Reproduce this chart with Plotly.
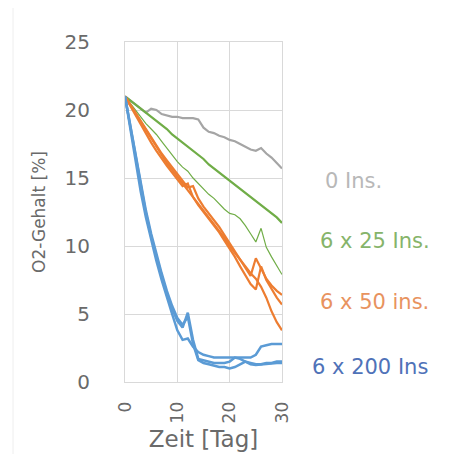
import plotly.graph_objects as go

days = list(range(0, 31))

gray_0 = [21, 20.7, 20.4, 20.1, 19.8, 20.1, 20.0, 19.7, 19.6, 19.5, 19.5, 19.4, 19.4, 19.4, 19.3,
          18.7, 18.4, 18.3, 18.1, 18.0, 17.8, 17.7, 17.5, 17.3, 17.1, 17.0, 17.2, 16.8, 16.5, 16.1, 15.7]

green_a = [21, 20.7, 20.4, 20.1, 19.8, 19.5, 19.2, 18.9, 18.6, 18.2, 17.9, 17.6, 17.3, 17.0, 16.7,
           16.4, 16.0, 15.7, 15.4, 15.1, 14.8, 14.5, 14.2, 13.9, 13.6, 13.3, 13.0, 12.7, 12.4, 12.1, 11.7]
green_b = [21, 20.5, 20.0, 19.5, 19.0, 18.6, 18.2, 17.7, 17.2, 16.7, 16.2, 15.8, 15.5, 15.0, 14.6,
           14.2, 13.8, 13.5, 13.1, 12.7, 12.4, 12.3, 12.0, 11.5, 10.9, 10.3, 11.3, 9.9, 9.2, 8.5, 7.9]

orange_a = [21, 20.4, 19.8, 19.2, 18.6, 18.0, 17.4, 16.8, 16.3, 15.8, 15.3, 14.8, 14.3, 14.4, 13.5,
            12.9, 12.4, 11.9, 11.4, 10.8, 10.2, 9.6, 9.0, 8.4, 7.8, 9.1, 8.3, 7.6, 7.1, 6.7, 6.4]
orange_b = [21, 20.3, 19.6, 18.9, 18.2, 17.6, 17.0, 16.4, 15.9, 15.4, 14.9, 14.4, 14.6, 13.6, 13.0,
            12.5, 12.0, 11.5, 11.0, 10.4, 9.8, 9.2, 8.5, 7.8, 7.2, 6.8, 8.5, 7.5, 6.8, 6.2, 5.7]
orange_c = [21, 20.4, 19.7, 19.1, 18.5, 17.9, 17.3, 16.7, 16.1, 15.6, 15.1, 14.6, 14.1, 13.6, 13.1,
            12.6, 12.1, 11.6, 11.1, 10.6, 10.0, 9.5, 9.0, 8.5, 8.0, 7.6, 7.0, 6.2, 5.2, 4.4, 3.8]

blue_a = [21, 18.8, 16.5, 14.3, 12.4, 10.7, 9.2, 7.8, 6.5, 5.4, 4.5, 4.0, 5.1, 3.1, 1.7,
          1.6, 1.5, 1.4, 1.4, 1.4, 1.5, 1.8, 1.7, 1.5, 1.3, 1.25, 1.3, 1.3, 1.4, 1.4, 1.4]
blue_b = [21, 18.6, 16.2, 14.0, 12.1, 10.4, 8.9, 7.5, 6.2, 5.0, 3.8, 3.1, 3.2, 2.6, 2.2,
          2.0, 1.9, 1.8, 1.8, 1.8, 1.8, 1.8, 1.8, 1.8, 1.8, 2.0, 2.6, 2.7, 2.8, 2.8, 2.8]
blue_c = [21, 18.9, 16.7, 14.5, 12.6, 10.9, 9.4, 8.0, 6.7, 5.6, 4.7, 4.2, 4.8, 2.8, 1.6,
          1.4, 1.3, 1.2, 1.1, 1.1, 1.0, 1.1, 1.3, 1.5, 1.4, 1.3, 1.3, 1.4, 1.4, 1.5, 1.5]

label_text = ["0 Ins.", "6 x 25 Ins.", "6 x 50 ins.", "6 x 200 Ins"]
label_y = [14.8, 10.4, 5.9, 1.1]
label_shift = [41, 36, 36, 28]
label_colors = ["#b8b8b8", "#86b46a", "#e8935f", "#4f72b8"]

GRAY = "#a5a5a5"
GREEN = "#70ad47"
ORANGE = "#ed7d31"
BLUE = "#5b9bd5"
FONT = "DejaVu Sans"
TXT = "#6a6a6a"

fig = go.Figure()

series = [
    (gray_0, GRAY, 2.2),
    (green_b, GREEN, 1.2),
    (green_a, GREEN, 2.2),
    (orange_c, ORANGE, 2.2),
    (orange_a, ORANGE, 2.2),
    (orange_b, ORANGE, 2.2),
    (blue_b, BLUE, 2.5),
    (blue_c, BLUE, 2.5),
    (blue_a, BLUE, 2.5),
]
for ys, col, w in series:
    fig.add_trace(go.Scatter(x=days, y=ys, mode="lines",
                             line=dict(color=col, width=w), showlegend=False,
                             hoverinfo="skip"))

for txt, yv, sh, col in zip(label_text, label_y, label_shift, label_colors):
    fig.add_annotation(x=1, xref="paper", xanchor="left", xshift=sh, y=yv, yref="y",
                       text=txt, showarrow=False,
                       font=dict(size=21, color=col, family=FONT))

# faint outer chart border at the left
fig.add_shape(type="line", xref="paper", yref="paper", x0=-0.713, x1=-0.713, y0=-0.3, y1=1.2,
              line=dict(color="#eeeeee", width=1))

fig.update_layout(
    width=444, height=446,
    margin=dict(l=117, r=170, t=34, b=72),
    paper_bgcolor="white", plot_bgcolor="white",
    font=dict(family=FONT, color=TXT),
)
fig.update_xaxes(range=[0, 30], tickvals=[0, 10, 20, 30], tickangle=-90,
                 automargin=False,
                 showgrid=True, gridcolor="#d9d9d9", gridwidth=1,
                 showline=True, mirror=True, linecolor="#d9d9d9", linewidth=1,
                 zeroline=False, ticks="", ticklabelstandoff=12,
                 tickfont=dict(size=17, color=TXT, family=FONT),
                 title=dict(text="Zeit [Tag]", font=dict(size=23, color=TXT, family=FONT), standoff=8))
fig.update_yaxes(range=[0, 25], tickvals=[0, 5, 10, 15, 20, 25],
                 automargin=False,
                 showgrid=True, gridcolor="#d9d9d9", gridwidth=1,
                 showline=True, mirror=True, linecolor="#d9d9d9", linewidth=1,
                 zeroline=False, ticks="", ticklabelstandoff=30,
                 tickfont=dict(size=20, color=TXT, family=FONT),
                 title=dict(text="O2-Gehalt [%]", font=dict(size=17, color=TXT, family=FONT), standoff=14))

fig.write_html("out.html")
